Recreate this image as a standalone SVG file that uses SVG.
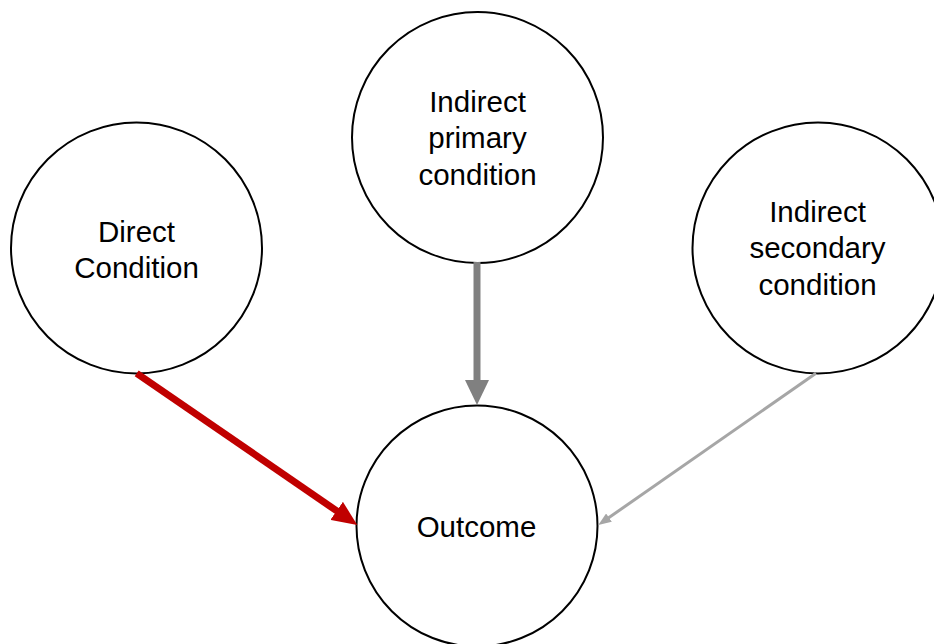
<svg xmlns="http://www.w3.org/2000/svg" width="934" height="644" viewBox="0 0 934 644">
<style>
.node circle{fill:#fff;stroke:#000;stroke-width:2}
.node text{font-family:"Liberation Sans",Arial,sans-serif;font-size:29.5px;fill:#000;text-anchor:middle}
.edge{fill:none}
</style>
<defs>
<marker id="hRed" viewBox="0 0 25 22" refX="5" refY="11" markerWidth="25" markerHeight="22" markerUnits="userSpaceOnUse" orient="auto"><path d="M0,0 L25,11 L0,22 z" fill="#C00000"/></marker>
<marker id="hGray" viewBox="0 0 25 24" refX="5" refY="12" markerWidth="25" markerHeight="24" markerUnits="userSpaceOnUse" orient="auto"><path d="M0,0 L25,12 L0,24 z" fill="#808080"/></marker>
<marker id="hLight" viewBox="0 0 13 10" refX="3" refY="5" markerWidth="13" markerHeight="10" markerUnits="userSpaceOnUse" orient="auto"><path d="M0,0 L13,5 L0,10 z" fill="#A6A6A6"/></marker>
</defs>
<rect width="934" height="644" fill="#fff"/>
<g id="n-direct" class="node"><circle cx="136.5" cy="248" r="125.5"/><text x="136.5" y="241.5">Direct</text><text x="136.5" y="278">Condition</text></g>
<g id="n-primary" class="node"><circle cx="477.5" cy="137.5" r="125.5"/><text x="477.5" y="111.5">Indirect</text><text x="477.5" y="148">primary</text><text x="477.5" y="185">condition</text></g>
<g id="n-secondary" class="node"><circle cx="818" cy="248" r="125.5"/><text x="817.5" y="221.5">Indirect</text><text x="817.5" y="258">secondary</text><text x="817.5" y="295">condition</text></g>
<g id="n-outcome" class="node"><circle cx="477" cy="526" r="120.5"/><text x="476.5" y="536.5">Outcome</text></g>
<g id="connectors">
<line class="edge" x1="136.7" y1="373.3" x2="340.8" y2="513.7" stroke="#C00000" stroke-width="7" marker-end="url(#hRed)"/>
<line class="edge" x1="477" y1="262" x2="477" y2="385" stroke="#808080" stroke-width="7" marker-end="url(#hGray)"/>
<line class="edge" x1="816" y1="373.3" x2="606.5" y2="519.3" stroke="#A6A6A6" stroke-width="3" marker-end="url(#hLight)"/>
</g>
</svg>
